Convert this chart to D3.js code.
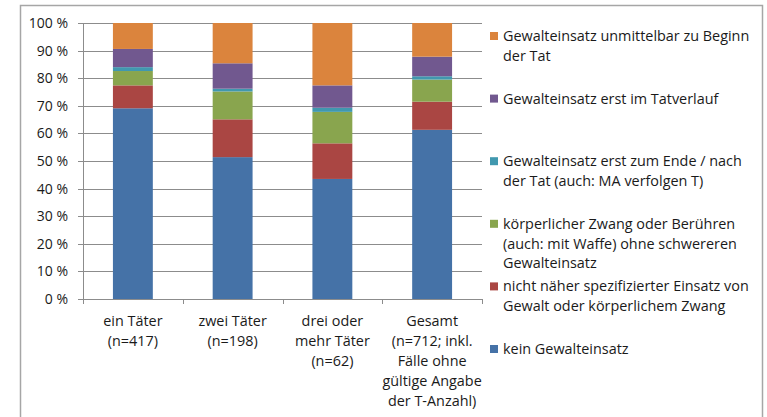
<!DOCTYPE html>
<html lang="de">
<head>
    <meta charset="UTF-8">
    <title>Gewalteinsatz nach Täteranzahl</title>
    <script src="https://d3js.org/d3.v7.min.js"></script>
    <style>
        body { margin: 0; background: #fff; }
        text { font-family: "Open Sans", sans-serif; fill: #1a1a1a; }
        .grid line { stroke: #8c8c8c; stroke-width: 1px; }
    </style>
</head>
<body>
    <svg id="chart" width="767" height="417"></svg>

    <script>
        // categories (x axis), each label split in lines
        const categories = ["ein Täter", "zwei Täter", "drei oder mehr Täter", "Gesamt"];
        const categoryLabels = [
            ["ein Täter", "(n=417)"],
            ["zwei Täter", "(n=198)"],
            ["drei oder", "mehr Täter", "(n=62)"],
            ["Gesamt", "(n=712; inkl.", "Fälle ohne", "gültige Angabe", "der T-Anzahl)"]
        ];

        // series, bottom to top (percent)
        const kein = [69.1, 51.4, 43.5, 61.3];
        const nichtSpez = [8.3, 13.7, 12.9, 10.2];
        const zwang = [5.2, 10.1, 11.4, 8.0];
        const ende = [1.4, 1.0, 1.5, 1.2];
        const verlauf = [6.6, 9.2, 8.1, 7.1];
        const beginn = [9.4, 14.6, 22.6, 12.2];

        const seriesNames = [
            "kein Gewalteinsatz",
            "nicht näher spezifizierter Einsatz von Gewalt oder körperlichem Zwang",
            "körperlicher Zwang oder Berühren (auch: mit Waffe) ohne schwereren Gewalteinsatz",
            "Gewalteinsatz erst zum Ende / nach der Tat (auch: MA verfolgen T)",
            "Gewalteinsatz erst im Tatverlauf",
            "Gewalteinsatz unmittelbar zu Beginn der Tat"
        ];
        // legend text lines, top to bottom as drawn
        const legendLines = [
            ["Gewalteinsatz unmittelbar zu Beginn", "der Tat"],
            ["Gewalteinsatz erst im Tatverlauf"],
            ["Gewalteinsatz erst zum Ende / nach", "der Tat (auch: MA verfolgen T)"],
            ["körperlicher Zwang oder Berühren", "(auch: mit Waffe) ohne schwereren", "Gewalteinsatz"],
            ["nicht näher spezifizierter Einsatz von", "Gewalt oder körperlichem Zwang"],
            ["kein Gewalteinsatz"]
        ];
        const colors = ["#4572A7", "#AA4643", "#89A54E", "#4198AF", "#71588F", "#DB843D"];
        const yTicks = [0, 10, 20, 30, 40, 50, 60, 70, 80, 90, 100];

        const seriesValues = [kein, nichtSpez, zwang, ende, verlauf, beginn];

        const svg = d3.select("#chart");

        // outer frame
        svg.append("path")
            .attr("d", "M20.5,417 V5.5 H762.5 V417")
            .attr("fill", "none")
            .attr("stroke", "#a6a6a6")
            .attr("stroke-width", 1.5);

        const margin = { left: 83, right: 482, top: 23, bottom: 299 };

        const x = d3.scaleBand()
            .domain(categories)
            .range([margin.left, margin.right])
            .paddingInner(0.6)
            .paddingOuter(0.3);

        const y = d3.scaleLinear()
            .domain([0, 100])
            .range([margin.bottom, margin.top]);

        // horizontal gridlines
        svg.append("g")
            .attr("class", "grid")
            .selectAll("line")
            .data(yTicks)
            .join("line")
            .attr("x1", margin.left - 5)
            .attr("x2", margin.right)
            .attr("y1", d => Math.round(y(d)) + 0.5)
            .attr("y2", d => Math.round(y(d)) + 0.5);

        // y axis line
        svg.append("line")
            .attr("x1", margin.left + 0.5).attr("x2", margin.left + 0.5)
            .attr("y1", margin.top).attr("y2", margin.bottom)
            .attr("stroke", "#8c8c8c");

        // y tick labels
        svg.append("g")
            .selectAll("text")
            .data(yTicks)
            .join("text")
            .attr("x", 68)
            .attr("y", d => y(d))
            .attr("dy", "0.35em")
            .attr("text-anchor", "end")
            .style("font-size", "14px")
            .text(d => d + " %");

        // category separators on x axis
        const sepX = d3.range(categories.length + 1).map(i => margin.left + i * (margin.right - margin.left) / categories.length);
        svg.append("g")
            .selectAll("line")
            .data(sepX)
            .join("line")
            .attr("x1", d => Math.round(d) + 0.5)
            .attr("x2", d => Math.round(d) + 0.5)
            .attr("y1", margin.bottom)
            .attr("y2", margin.bottom + 5)
            .attr("stroke", "#8c8c8c");

        // stacked bars
        const rows = categories.map((c, i) => {
            const row = { cat: c };
            seriesNames.forEach((s, j) => { row[s] = seriesValues[j][i]; });
            return row;
        });
        const stacked = d3.stack().keys(seriesNames)(rows);

        svg.append("g")
            .selectAll("g")
            .data(stacked)
            .join("g")
            .attr("fill", (d, i) => colors[i])
            .selectAll("rect")
            .data(d => d)
            .join("rect")
            .attr("x", d => x(d.data.cat))
            .attr("width", x.bandwidth())
            .attr("y", d => y(d[1]))
            .attr("height", d => y(d[0]) - y(d[1]));

        // category labels
        const catG = svg.append("g")
            .selectAll("text")
            .data(categories)
            .join("text")
            .attr("x", d => x(d) + x.bandwidth() / 2)
            .attr("y", 321)
            .attr("text-anchor", "middle")
            .style("font-size", "14.4px");
        catG.each(function(d, i) {
            d3.select(this).selectAll("tspan")
                .data(categoryLabels[i])
                .join("tspan")
                .attr("x", x(d) + x.bandwidth() / 2)
                .attr("dy", (t, k) => k === 0 ? "0.35em" : 20)
                .text(t => t);
        });

        // legend (top = last series)
        const legendColors = colors.slice().reverse();
        const legend = svg.append("g")
            .selectAll("g")
            .data(legendLines)
            .join("g")
            .attr("transform", (d, i) => `translate(490, ${36 + i * 62.6})`);

        legend.append("rect")
            .attr("x", 0)
            .attr("y", -4)
            .attr("width", 8)
            .attr("height", 8)
            .attr("fill", (d, i) => legendColors[i]);

        legend.append("text")
            .attr("x", 13)
            .attr("y", 0)
            .style("font-size", "14.4px")
            .selectAll("tspan")
            .data(d => d)
            .join("tspan")
            .attr("x", 13)
            .attr("dy", (t, k) => k === 0 ? "0.35em" : 19.8)
            .text(t => t);
    </script>
</body>
</html>
